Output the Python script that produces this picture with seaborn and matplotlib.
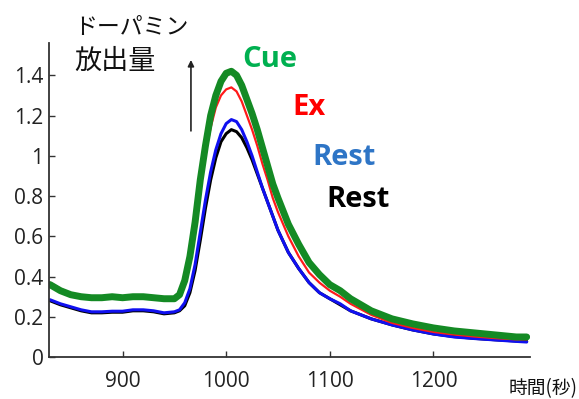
import numpy as np
import pandas as pd
import matplotlib
matplotlib.use("Agg")
import matplotlib.pyplot as plt
import seaborn as sns

time = [830, 840, 850, 860, 870, 880, 890, 900, 910, 920, 930, 940, 950, 955, 960, 965,
        970, 975, 980, 985, 990, 995, 1000, 1005, 1010, 1015, 1020, 1025, 1030, 1035,
        1040, 1045, 1050, 1060, 1070, 1080, 1090, 1100, 1110, 1120, 1140, 1160, 1180,
        1200, 1220, 1240, 1260, 1280, 1290]

cue = [0.36, 0.33, 0.31, 0.30, 0.295, 0.295, 0.30, 0.295, 0.30, 0.30, 0.295, 0.29, 0.29,
       0.31, 0.38, 0.50, 0.67, 0.88, 1.05, 1.20, 1.30, 1.37, 1.41, 1.42, 1.40, 1.35, 1.28,
       1.21, 1.13, 1.04, 0.95, 0.86, 0.79, 0.66, 0.56, 0.47, 0.41, 0.36, 0.33, 0.29, 0.23,
       0.19, 0.165, 0.145, 0.13, 0.12, 0.11, 0.10, 0.10]

ex = [0.37, 0.34, 0.315, 0.30, 0.295, 0.295, 0.30, 0.295, 0.30, 0.30, 0.295, 0.29, 0.29,
      0.31, 0.37, 0.49, 0.65, 0.85, 1.01, 1.14, 1.24, 1.30, 1.33, 1.34, 1.32, 1.27, 1.20,
      1.13, 1.05, 0.96, 0.88, 0.79, 0.72, 0.60, 0.50, 0.42, 0.37, 0.33, 0.30, 0.265, 0.21,
      0.17, 0.145, 0.125, 0.112, 0.102, 0.094, 0.088, 0.088]

rest_blue = [0.285, 0.265, 0.25, 0.235, 0.225, 0.225, 0.228, 0.228, 0.235, 0.235, 0.23,
             0.22, 0.225, 0.235, 0.27, 0.34, 0.46, 0.62, 0.78, 0.92, 1.03, 1.11, 1.16,
             1.18, 1.17, 1.13, 1.07, 1.00, 0.92, 0.84, 0.77, 0.70, 0.63, 0.52, 0.44, 0.37,
             0.32, 0.29, 0.265, 0.23, 0.19, 0.16, 0.135, 0.115, 0.10, 0.092, 0.085, 0.078,
             0.075]

rest_black = [0.28, 0.26, 0.245, 0.23, 0.22, 0.22, 0.223, 0.223, 0.23, 0.23, 0.225, 0.215,
              0.22, 0.23, 0.255, 0.32, 0.43, 0.58, 0.74, 0.88, 0.99, 1.07, 1.11, 1.13,
              1.12, 1.09, 1.04, 0.98, 0.91, 0.84, 0.77, 0.70, 0.63, 0.52, 0.44, 0.37, 0.32,
              0.29, 0.26, 0.23, 0.19, 0.16, 0.135, 0.115, 0.102, 0.093, 0.086, 0.08, 0.078]

yticks = [0, 0.2, 0.4, 0.6, 0.8, 1.0, 1.2, 1.4]
ytick_labels = ["0", "0.2", "0.4", "0.6", "0.8", "1", "1.2", "1.4"]
xticks = [900, 1000, 1100, 1200]

sns.set_style("ticks")
plt.rcParams["font.family"] = ["Noto Sans CJK JP", "DejaVu Sans"]

fig = plt.figure(figsize=(5.79, 3.99), dpi=100)
ax = fig.add_axes([0.0846, 0.105, 0.8304, 0.787])

series = [
    ("Rest2", rest_black, "#000000", 2.2),
    ("Rest1", rest_blue, "#1010f0", 2.2),
    ("Ex", ex, "#ff1a1a", 1.6),
    ("Cue", cue, "#148a24", 5.0),
]
for name, vals, col, lw in series:
    df = pd.DataFrame({"time": time, "value": vals})
    sns.lineplot(data=df, x="time", y="value", ax=ax, color=col, linewidth=lw,
                 solid_capstyle="round", solid_joinstyle="round")

ax.set_xlim(829, 1293)
ax.set_ylim(0, 1.56)
ax.set_xticks(xticks)
ax.set_xticklabels([str(v) for v in xticks])
ax.set_yticks(yticks)
ax.set_yticklabels(ytick_labels)
ax.set_xlabel("")
ax.set_ylabel("")
sns.despine(ax=ax)
for sp in ["left", "bottom"]:
    ax.spines[sp].set_color("#333333")
    ax.spines[sp].set_linewidth(1.3)
ax.tick_params(direction="in", length=4, width=1, colors="#333333",
               labelcolor="#222222")
ax.tick_params(axis="y", pad=4)
ax.tick_params(axis="x", pad=10)
for lab in ax.get_xticklabels() + ax.get_yticklabels():
    lab.set_family(["Open Sans", "DejaVu Sans"])
    lab.set_fontsize(15)

# series labels
lab_font = ["Open Sans", "DejaVu Sans"]
for txt, x, y, col in [("Cue", 0.466, 0.832, "#00b050"),
                       ("Ex", 0.534, 0.712, "#ff0000"),
                       ("Rest", 0.595, 0.586, "#2e75c6"),
                       ("Rest", 0.618, 0.481, "#000000")]:
    fig.text(x, y, txt, color=col, fontsize=21, fontweight="bold",
             family=lab_font, ha="center", va="baseline")

# y label (two lines) with arrow
fig.text(0.128, 0.915, "ドーパミン", fontsize=16.5, ha="left", va="baseline",
         color="#111111")
fig.text(0.128, 0.828, "放出量", fontsize=19.5, ha="left", va="baseline",
         color="#111111")
ax.annotate("", xy=(966, 1.49), xytext=(966, 1.11),
            arrowprops=dict(arrowstyle="-|>", color="#222222", lw=1.2,
                            mutation_scale=9))

fig.text(0.997, 0.027, "時間(秒)", fontsize=13.5, ha="right", va="center",
         color="#111111")

fig.savefig("out.png", dpi=100)
